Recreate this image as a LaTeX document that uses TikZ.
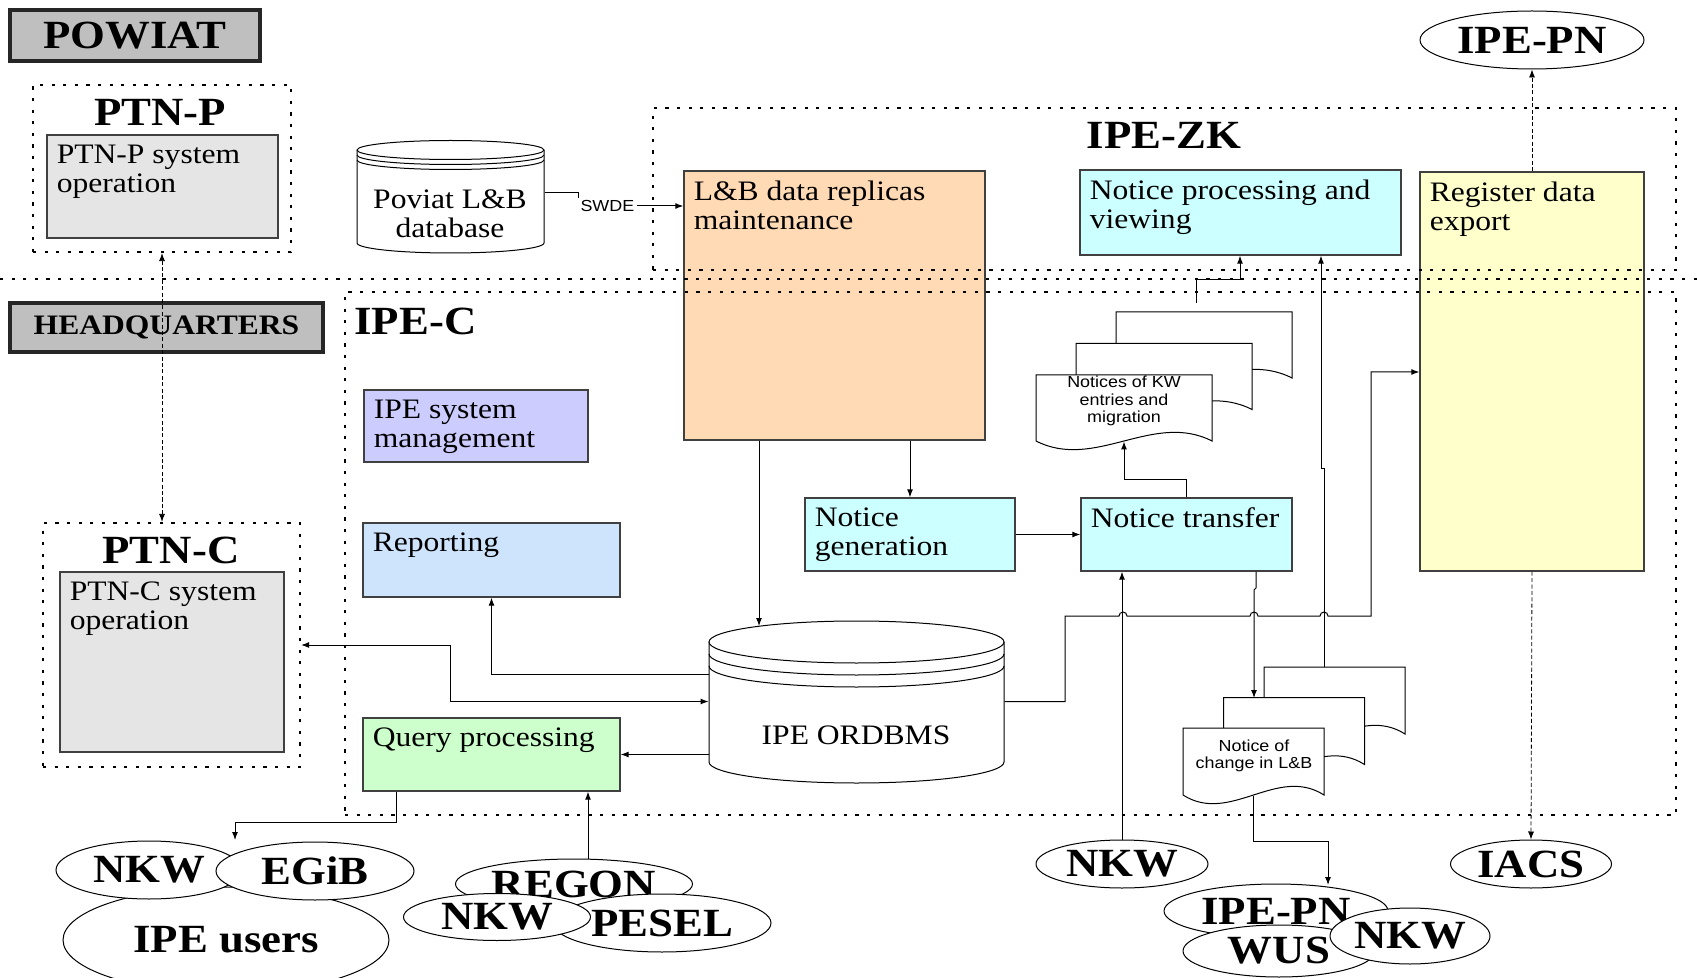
\documentclass[tikz,border=0pt]{standalone}
\usepackage{fontspec}
\setmainfont{Liberation Serif}[FakeStretch=1.12]
\setsansfont{Liberation Sans}[FakeStretch=1.12]
\usetikzlibrary{shapes.geometric,fit,arrows.meta}
\definecolor{peach}{RGB}{255,218,180}
\definecolor{cyanbox}{RGB}{204,255,255}
\definecolor{yellowbox}{RGB}{255,255,204}
\definecolor{lavender}{RGB}{204,204,255}
\definecolor{bluebox}{RGB}{206,228,252}
\definecolor{greenbox}{RGB}{204,255,204}

\begin{document}
\begin{tikzpicture}[x=0.5pt,y=-0.5pt,line width=0.5pt,>={Latex[length=4pt,width=3pt]},
  blk/.style={draw=black!75,line width=0.7pt,inner sep=0pt},
  hdr/.style={draw=black!85,line width=2pt,fill=black!25,inner sep=0pt},
  big/.style={font=\bfseries\fontsize{20}{22}\selectfont},
  txt/.style={anchor=north west,align=left,inner sep=5pt,font=\fontsize{14.1}{14.6}\selectfont},
  zone/.style={draw,line width=1.1pt,dash pattern=on 1.6pt off 4.2pt,inner sep=0pt},
  ell/.style={ellipse,draw,fill=white,inner sep=0pt,big},
  small/.style={font=\sffamily\fontsize{8}{8.6}\selectfont,align=center,inner sep=1pt},
  dlink/.style={dash pattern=on 2pt off 1.2pt,line width=0.4pt}]
    \useasboundingbox (0,0) rectangle (1697,978);
    %POWIAT side
    \node[hdr,fit={(10,10) (260,61)},label={[big,anchor=center]center:POWIAT}] (powiat) {};
    \node[blk,fill=black!10,fit={(47,135) (278,238)},label={[txt]north west:{PTN-P system\\operation}}] (ptnpbox) {};
    \node[big,inner sep=0pt] (ptnpttl) at (160,112) {PTN-P};
    \node[fit={(357,140) (544,253)},inner sep=0pt] (poviatdb) {};
    \draw[fill=white] (357,150) -- (357,243) arc[start angle=180,end angle=0,x radius=93.5,y radius=10] -- (544,150);
    \draw[fill=white] (450.5,150) ellipse[x radius=93.5,y radius=9.5];
    \foreach \d in {5,10}
    \draw (357,{150+\d}) arc[start angle=180,end angle=0,x radius=93.5,y radius=9.5];
    \node[txt,anchor=center,align=center,inner sep=0pt] (poviattxt) at (450,214) {Poviat L\&B\\database};
    %headquarters side
    \node[hdr,fit={(10,303) (323,352)},label={[anchor=center,font=\bfseries\fontsize{14.1}{16}\selectfont]center:HEADQUARTERS}] (hq) {};
    \node[blk,fill=black!10,fit={(60,572) (284,752)},label={[txt]north west:{PTN-C system\\operation}}] (ptncbox) {};
    \node[big,inner sep=0pt] (ptncttl) at (171,550) {PTN-C};
    \node[blk,fill=lavender,fit={(364,390) (588,462)},label={[txt]north west:{IPE system\\management}}] (sysmgmt) {};
    \node[blk,fill=bluebox,fit={(363,523) (620,597)},label={[txt]north west:{Reporting}}] (report) {};
    \node[blk,fill=greenbox,fit={(363,718) (620,791)},label={[txt]north west:{Query processing}}] (query) {};
    \node[blk,fill=peach,fit={(684,171) (985,440)},label={[txt]north west:{L\&B data replicas\\maintenance}}] (lbrep) {};
    \node[blk,fill=cyanbox,fit={(1080,170) (1401,255)},label={[txt]north west:{Notice processing and\\viewing}}] (notproc) {};
    \node[blk,fill=yellowbox,fit={(1420,172) (1644,571)},label={[txt]north west:{Register data\\export}}] (regexp) {};
    \node[blk,fill=cyanbox,fit={(805,498) (1015,571)},label={[txt]north west:{Notice\\generation}}] (notgen) {};
    \node[blk,fill=cyanbox,fit={(1081,498) (1292,571)},label={[txt]north west:{Notice transfer}}] (nottrans) {};
    %IPE ORDBMS
    \node[fit={(709,620) (1004,783)},inner sep=0pt] (ordbms) {};
    \draw[fill=white] (709,642) -- (709,762) arc[start angle=180,end angle=0,x radius=147.5,y radius=21] -- (1004,642);
    \draw[fill=white] (856.5,642) ellipse[x radius=147.5,y radius=21];
    \foreach \d in {12,24}
    \draw (709,{642+\d}) arc[start angle=180,end angle=0,x radius=147.5,y radius=21];
    \node[txt,anchor=center,inner sep=0pt] (ordbmstxt) at (856,735) {IPE ORDBMS};
    %document stacks
    \foreach \s in {2,1,0}
    \draw[fill=white] ({1036+40*\s},{375-31.5*\s}) -- ++(176,0) -- ++(0,66) .. controls +(-59,-30) and +(59,30) .. ++(-176,0) -- cycle;
    \node[fit={(1036,375) (1212,441)},inner sep=0pt] (kwdoc) {};
    \node[small] (kwtxt) at (1124,401) {Notices of KW\\entries and\\migration};
    \foreach \s in {2,1,0}
    \draw[fill=white] ({1183+40.5*\s},{728-30.5*\s}) -- ++(141,0) -- ++(0,67) .. controls +(-47,-30) and +(47,30) .. ++(-141,0) -- cycle;
    \node[fit={(1183,728) (1324,795)},inner sep=0pt] (chgdoc) {};
    \node[small] (chgtxt) at (1254,756) {Notice of\\change in L\&B};
    %outside systems
    \node[ell,minimum width=112pt,minimum height=29pt] (ipepnt) at (1532,40) {IPE-PN};
    \node[ell,minimum width=163pt,minimum height=53pt] (users) at (226,940) {IPE users};
    \node[ell,minimum width=93pt,minimum height=29pt] (nkwl) at (149,870) {NKW};
    \node[ell,minimum width=99pt,minimum height=29pt] (egib) at (315,871) {EGiB};
    \node[ell,minimum width=118.5pt,minimum height=25pt] (regon) at (574,884) {REGON};
    \node[ell,minimum width=109pt,minimum height=29pt] (pesel) at (662,923) {PESEL};
    \node[ell,minimum width=93.5pt,minimum height=23.5pt] (nkwq) at (497,917) {NKW};
    \node[ell,minimum width=86pt,minimum height=24pt] (nkwm) at (1122,864) {NKW};
    \node[ell,minimum width=80.5pt,minimum height=24pt] (iacs) at (1531,864) {IACS};
    \node[ell,minimum width=112pt,minimum height=27pt] (ipepnb) at (1276,911) {IPE-PN};
    \node[ell,minimum width=96pt,minimum height=26pt] (wus) at (1279,951) {WUS};
    \node[ell,minimum width=80pt,minimum height=28pt] (nkwr) at (1410,936) {NKW};
    %zones
    \node[zone,fit={(33,85) (291,252)}] (ptnpzone) {};
    \node[zone,fit={(43,523) (300,767)}] (ptnczone) {};
    \node[zone,fit={(653,108) (1676,270)}] (ipezk) {};
    \node[zone,fit={(345,292) (1676,815)}] (ipec) {};
    \draw[zone] (0,279) -- (1697,279);
    \node[big,inner sep=0pt] (ipezkttl) at (1164,135) {IPE-ZK};
    \node[big,inner sep=0pt,anchor=west] (ipecttl) at (354,321) {IPE-C};
    %connectors
    \coordinate (ordtop) at (759,626);
    \coordinate (kwout) at (1196,303);
    \coordinate (chgout) at (1324,667);
    \coordinate (chgmid) at (1254,698);
    \coordinate (pnin) at (1328,885);
    \coordinate (usersin) at (235,840);
    \node[small,fill=white,anchor=west] (swde) at (578,206) {SWDE};
    \draw (poviatdb.east |- 0,193) -| (swde.north west);
    \draw[->] (swde.east) -- (lbrep.west |- swde.east);
    \draw[dlink,<->] (ptnpzone.south -| 162,0) -- (ptnczone.north -| 162,0);
    \draw[->] (lbrep.south -| ordtop) -- (ordtop);
    \draw[->] (lbrep.south -| notgen.north) -- (notgen.north);
    \draw[->] (notgen.east) -- (nottrans.west);
    \draw[->] (nottrans.north) -- ++(0,-18) -| (kwdoc.south);
    \draw[->] (kwout) -- ++(0,-23) -| (notproc.south -| 1240,0);
    \draw[->] (chgout) -- (1324,468) -- (1321,468) -- (notproc.south -| 1321,0);
    \draw[->] (nottrans.south -| 1256,0) -- (1256,588) -- (1254,590) -- (chgmid);
    \draw[->] (nkwm.north) -- (nottrans.south -| nkwm.north);
    \draw[->] (ordbms.east) -- (1065,701.5) -- (1065,616)
        \foreach \c in {1123,1254,1324} { -- ({\c-4},616) arc[start angle=180,end angle=360,radius=4] }
        -- (1371,616) |- (regexp.west |- 0,372);
    \draw[->] (ordbms.west |- 0,674) -| (report.south);
    \draw[<->] (ptnczone.east |- 0,645) -| (ordbms.west -| 450,0) -- (ordbms.west);
    \draw[->] (ordbms.west |- query.east) -- (query.east);
    \draw[->] (query.south -| 396,0) -- (396,822) -| (usersin);
    \draw[->] (regon.north -| 588,0) -- (query.south -| 588,0);
    \draw[->] (chgdoc.south) -- (chgdoc.south |- 0,841) -| (pnin);
    \draw[dlink,->] (regexp.north) -- (ipepnt.south);
    \draw[dlink,->] (regexp.south) -- (iacs.north);
\end{tikzpicture}
\end{document}
